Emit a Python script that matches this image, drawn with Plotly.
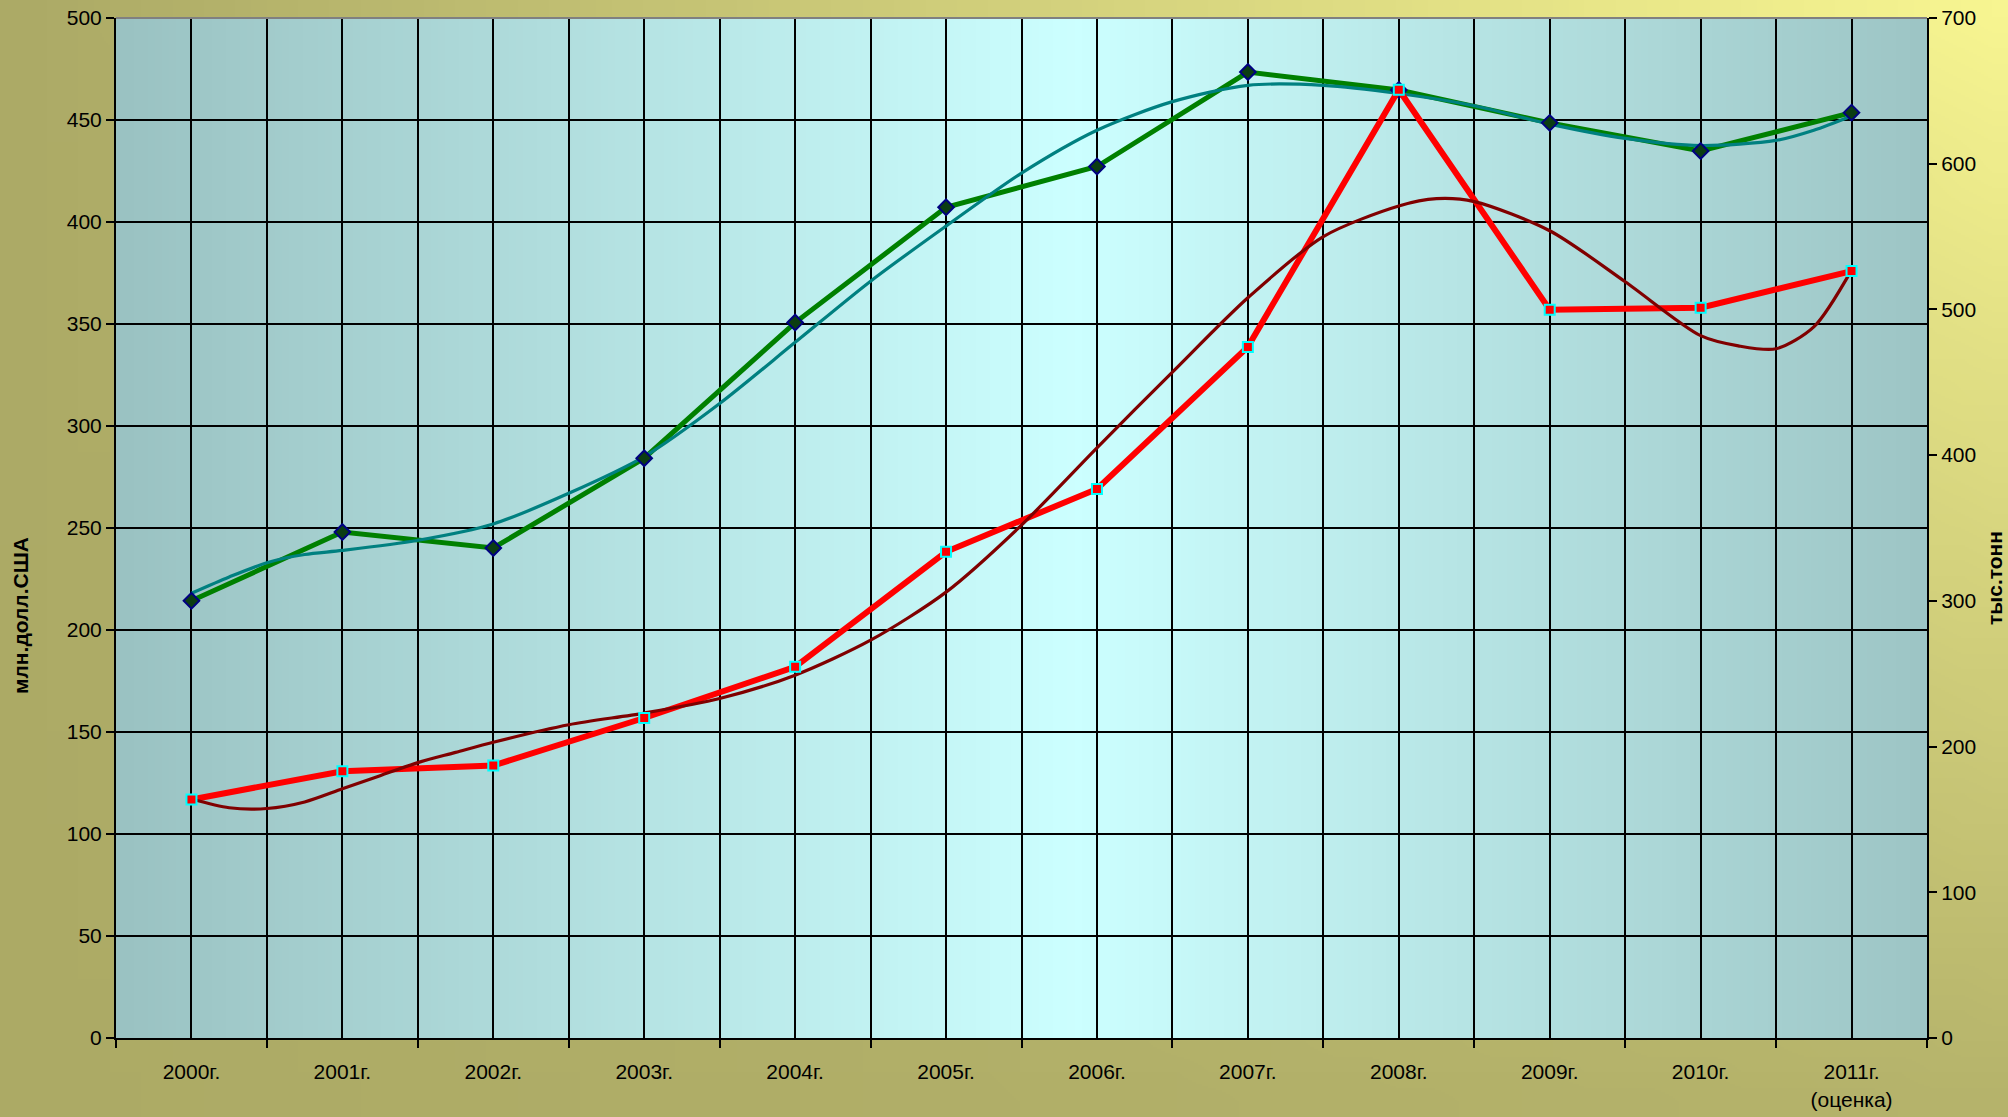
import base64
import struct
import zlib
import plotly.graph_objects as go

# ---------------- data ----------------
categories = ["2000г.", "2001г.", "2002г.", "2003г.", "2004г.", "2005г.",
              "2006г.", "2007г.", "2008г.", "2009г.", "2010г.", "2011г.<br>(оценка)"]
cat_pos = list(range(len(categories)))

# млн.долл.США (left axis)
value_musd = [214.3, 248.0, 240.2, 284.2, 350.7, 407.2, 427.2, 473.5, 464.7, 448.6, 434.8, 453.6]
# тыс.тонн (right axis)
volume_kt = [163.7, 183.1, 187.0, 219.6, 254.7, 333.7, 376.8, 474.3, 650.8, 499.8, 501.2, 526.3]

# trend lines (position in category units, value)
trend_value_x = [0, 0.25, 0.5, 0.75, 1.0, 1.5, 2.0, 2.5, 3.0, 3.5, 4.0, 4.5, 5.0, 5.5, 6.0,
                 6.5, 7.0, 7.5, 8.0, 8.5, 9.0, 9.5, 10.0, 10.5, 10.75, 11.0]
trend_value_y = [218, 226, 233, 237, 239, 244, 252, 267, 285, 311, 341, 371, 398, 424, 445,
                 459, 467, 467, 463, 457, 448, 441, 437.5, 440, 445, 452]

trend_volume_x = [0, 0.25, 0.5, 0.75, 1.0, 1.25, 1.5, 1.75, 2.0, 2.5, 3.0, 3.5, 4.0, 4.5, 5.0,
                  5.5, 6.0, 6.5, 7.0, 7.5, 8.0, 8.25, 8.5, 9.0, 9.5, 10.0, 10.25, 10.5, 10.75, 11.0]
trend_volume_y = [164, 158, 157.5, 162, 171, 180, 189, 196, 203, 215, 223, 233, 249, 273, 306,
                  352, 405, 457, 508, 550, 571, 576, 574, 554, 519, 482, 475, 473, 488, 527]

left_title = "млн.долл.США"
right_title = "тыс.тонн"

# ---------------- gradient backgrounds (tiny PNGs) ----------------
def png_uri(w, h, fn):
    rows = []
    for j in range(h):
        v = j / (h - 1) if h > 1 else 0
        row = bytearray(b"\x00")
        for i in range(w):
            u = i / (w - 1) if w > 1 else 0
            row.extend(int(round(c)) for c in fn(u, v))
        rows.append(bytes(row))
    raw = b"".join(rows)

    def chunk(t, d):
        return struct.pack(">I", len(d)) + t + d + struct.pack(">I", zlib.crc32(t + d) & 0xffffffff)

    png = (b"\x89PNG\r\n\x1a\n"
           + chunk(b"IHDR", struct.pack(">IIBBBBB", w, h, 8, 2, 0, 0, 0))
           + chunk(b"IDAT", zlib.compress(raw, 9))
           + chunk(b"IEND", b""))
    return "data:image/png;base64," + base64.b64encode(png).decode()


def lerp(a, b, t):
    return [a[k] + (b[k] - a[k]) * t for k in range(3)]


TL, TR, BL, BR = (172, 170, 102), (247, 245, 145), (172, 170, 101), (181, 179, 107)


def paper_fn(u, v):
    top = lerp(TL, TR, u)
    bot = lerp(BL, BR, u)
    return lerp(top, bot, v)


P0, PM, P1, PMID = (154, 194, 194), (204, 255, 255), (157, 197, 197), 0.53


def plot_fn(u, v):
    if u <= PMID:
        return lerp(P0, PM, u / PMID)
    return lerp(PM, P1, (u - PMID) / (1 - PMID))


paper_img = png_uri(64, 36, paper_fn)
plot_img = png_uri(256, 2, plot_fn)

W, H = 2008, 1117
ML, MR, MT, MB = 116, 81, 18, 79
PW, PH = W - ML - MR, H - MT - MB

FONT = "Liberation Sans, Arial, sans-serif"

fig = go.Figure()

# main series
fig.add_trace(go.Scatter(x=cat_pos, y=value_musd, mode="lines", yaxis="y",
                         line=dict(color="#008000", width=5), showlegend=False))
fig.add_trace(go.Scatter(x=cat_pos, y=volume_kt, mode="lines", yaxis="y2",
                         line=dict(color="#FF0000", width=6), showlegend=False))
# trend lines
fig.add_trace(go.Scatter(x=trend_value_x, y=trend_value_y, mode="lines", yaxis="y",
                         line=dict(color="#008080", width=3.2, shape="spline", smoothing=0.8),
                         showlegend=False))
fig.add_trace(go.Scatter(x=trend_volume_x, y=trend_volume_y, mode="lines", yaxis="y2",
                         line=dict(color="#800000", width=3.2, shape="spline", smoothing=0.8),
                         showlegend=False))
# markers
fig.add_trace(go.Scatter(x=cat_pos, y=value_musd, mode="markers", yaxis="y",
                         marker=dict(symbol="diamond", size=12, color="#0B3D12",
                                     line=dict(color="#000080", width=2)),
                         showlegend=False))
fig.add_trace(go.Scatter(x=cat_pos, y=volume_kt, mode="markers", yaxis="y2",
                         marker=dict(symbol="square", size=10, color="#FF0000",
                                     line=dict(color="#00FFFF", width=2)),
                         showlegend=False))

fig.update_layout(
    width=W, height=H,
    margin=dict(l=ML, r=MR, t=MT, b=MB, pad=0),
    paper_bgcolor="#B5B36C",
    plot_bgcolor="rgba(0,0,0,0)",
    font=dict(family=FONT, size=21, color="black"),
    showlegend=False,
    xaxis=dict(
        range=[-0.5, 11.5], tickmode="array", tickvals=cat_pos, ticktext=categories,
        showgrid=True, gridcolor="black", gridwidth=1.5,
        ticks="outside", ticklen=14, tickcolor="rgba(0,0,0,0)",
        showline=True, linecolor="black", linewidth=2,
        zeroline=False, automargin=False,
        minor=dict(tick0=-0.5, dtick=1, showgrid=True, gridcolor="black", gridwidth=1.5,
                   ticks="outside", ticklen=8, tickcolor="black", tickwidth=2),
        tickfont=dict(size=21, family=FONT, color="black"),
    ),
    yaxis=dict(
        range=[0, 500], dtick=50, tick0=0,
        showgrid=True, gridcolor="black", gridwidth=1.5,
        ticks="outside", ticklen=8, tickcolor="black", tickwidth=2,
        showline=True, linecolor="black", linewidth=2,
        zeroline=False, automargin=False,
        tickfont=dict(size=21, family=FONT, color="black"),
    ),
    yaxis2=dict(
        range=[0, 700], dtick=100, tick0=0, overlaying="y", side="right",
        showgrid=False,
        ticks="outside", ticklen=8, tickcolor="black", tickwidth=2,
        showline=True, linecolor="black", linewidth=2,
        zeroline=False, automargin=False,
        tickfont=dict(size=21, family=FONT, color="black"),
    ),
    images=[
        dict(source=paper_img, xref="paper", yref="paper",
             x=-ML / PW, y=1 + MT / PH, sizex=W / PW, sizey=H / PH,
             xanchor="left", yanchor="top", sizing="stretch", layer="below"),
        dict(source=plot_img, xref="paper", yref="paper",
             x=0, y=1, sizex=1, sizey=1,
             xanchor="left", yanchor="top", sizing="stretch", layer="below"),
    ],
    shapes=[
        dict(type="line", xref="paper", yref="paper", x0=0, x1=1, y0=1, y1=1,
             line=dict(color="#808080", width=2), layer="above"),
    ],
    annotations=[
        dict(text="<b>" + left_title + "</b>", xref="paper", yref="paper",
             x=(20 - ML) / PW, y=(H - MB - 616) / PH, textangle=-90,
             showarrow=False, xanchor="center", yanchor="middle",
             font=dict(size=21, family=FONT, color="black")),
        dict(text="<b>" + right_title + "</b>", xref="paper", yref="paper",
             x=(1994 - ML) / PW, y=(H - MB - 578) / PH, textangle=-90,
             showarrow=False, xanchor="center", yanchor="middle",
             font=dict(size=21, family=FONT, color="black")),
    ],
)

fig.write_html(
    "out.html",
    config={"displayModeBar": False},
    post_script="document.body.style.margin='0';document.body.style.padding='0';"
                "document.body.style.overflow='hidden';"
                "document.documentElement.style.overflow='hidden';",
)
